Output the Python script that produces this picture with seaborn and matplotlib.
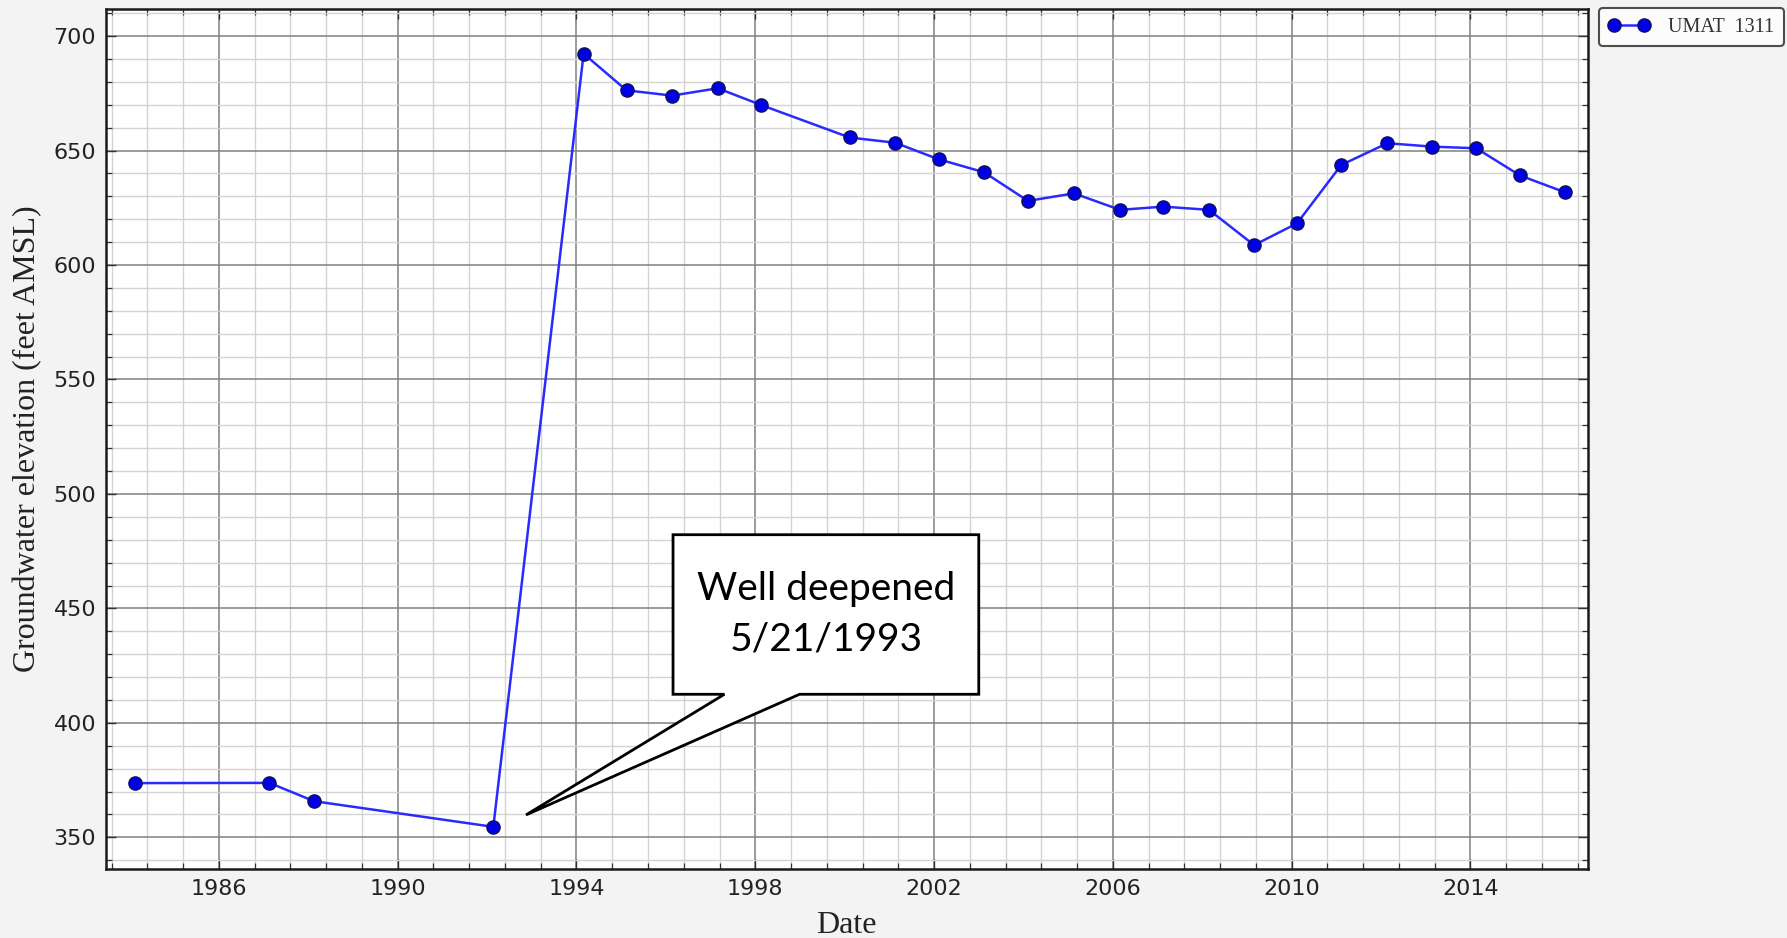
import matplotlib
matplotlib.use("Agg")
import matplotlib.pyplot as plt
from matplotlib.ticker import FixedLocator, AutoMinorLocator
from matplotlib.patches import Polygon
import seaborn as sns
import pandas as pd

# ---- data (decimal year, groundwater elevation ft AMSL) ----
dates = [1984.13, 1987.13, 1988.13, 1992.14, 1994.16, 1995.12, 1996.14, 1997.16,
         1998.13, 2000.11, 2001.13, 2002.10, 2003.12, 2004.10, 2005.13, 2006.16,
         2007.13, 2008.15, 2009.16, 2010.12, 2011.11, 2012.14, 2013.15, 2014.13,
         2015.11, 2016.11]
elev = [373.7, 373.8, 365.8, 354.6, 692.3, 676.3, 674.0, 677.2,
        669.9, 655.7, 653.4, 646.2, 640.5, 628.0, 631.3, 624.1,
        625.5, 624.1, 608.7, 618.2, 643.7, 653.2, 651.7, 651.0,
        639.1, 631.8]
series_name = "UMAT  1311"
x_ticks = [1986, 1990, 1994, 1998, 2002, 2006, 2010, 2014]
y_ticks = [350, 400, 450, 500, 550, 600, 650, 700]
x_label = "Date"
y_label = "Groundwater elevation (feet AMSL)"
callout_text = "Well deepened\n5/21/1993"

df = pd.DataFrame({"Date": dates, "Elevation": elev, "Well": series_name})

sns.set_style("white")
plt.rcParams["font.family"] = ["DejaVu Sans"]

fig = plt.figure(figsize=(17.87, 9.38), dpi=100, facecolor="#f3f3f3")
ax = fig.add_axes([0.0592, 0.0736, 0.8292, 0.9165])
ax.set_facecolor("white")

sns.lineplot(data=df, x="Date", y="Elevation", hue="Well", palette=["#2a2aff"],
             marker="o", markersize=9.5, markerfacecolor="#0000e6",
             markeredgecolor="#10105a", markeredgewidth=1.0,
             linewidth=1.8, ax=ax)

ax.set_xlim(1983.47, 2016.62)
ax.set_ylim(336.2, 711.7)

ax.xaxis.set_major_locator(FixedLocator(x_ticks))
ax.yaxis.set_major_locator(FixedLocator(y_ticks))
ax.xaxis.set_minor_locator(AutoMinorLocator(5))
ax.yaxis.set_minor_locator(AutoMinorLocator(5))
ax.set_xticklabels([str(t) for t in x_ticks])
ax.set_yticklabels([str(t) for t in y_ticks])

ax.grid(which="major", color="#808080", linewidth=1.1)
ax.grid(which="minor", color="#d3d3d3", linewidth=1.0)
ax.set_axisbelow(True)

ax.tick_params(which="both", direction="in", top=True, right=True,
               bottom=True, left=True, color="#333333")
ax.tick_params(which="major", length=7, width=1.0, labelsize=16,
               labelcolor="#222222", pad=7)
ax.tick_params(which="minor", length=4, width=0.9)
for s in ax.spines.values():
    s.set_color("#1a1a1a")
    s.set_linewidth(1.8)

ax.set_xlabel(x_label, family="Liberation Serif", fontsize=23, color="#222222")
ax.set_ylabel(y_label, family="Liberation Serif", fontsize=23, color="#222222")
ax.xaxis.set_label_coords(0.5, -0.049)
ax.yaxis.set_label_coords(-0.043, 0.5)

# ---- callout annotation ----
box_l, box_r, box_b, box_t = 1996.16, 2003.0, 412.5, 482.2
tail1, tail2 = 1997.31, 1998.99
tip = (1992.87, 359.8)
callout = Polygon([(box_l, box_b), (box_l, box_t), (box_r, box_t), (box_r, box_b),
                   (tail2, box_b), tip, (tail1, box_b)],
                  closed=True, facecolor="white", edgecolor="black",
                  linewidth=2.0, zorder=5)
ax.add_patch(callout)
ax.text((box_l + box_r) / 2, (box_b + box_t) / 2, callout_text,
        ha="center", va="center", fontsize=28, family="Lato",
        linespacing=1.5, color="black", zorder=6)

leg = ax.legend(loc="upper left", bbox_to_anchor=(0.8948, 0.991),
                bbox_transform=fig.transFigure, frameon=True, fancybox=True,
                borderaxespad=0, numpoints=2,
                prop={"family": "Liberation Serif", "size": 14.5},
                handlelength=2.1, borderpad=0.45, handletextpad=0.9)
leg.get_frame().set_edgecolor("#222222")
leg.get_frame().set_linewidth(1.5)
leg.get_frame().set_facecolor("white")
for t in leg.get_texts():
    t.set_color("#333333")

fig.savefig("out.png", dpi=100, facecolor=fig.get_facecolor())
